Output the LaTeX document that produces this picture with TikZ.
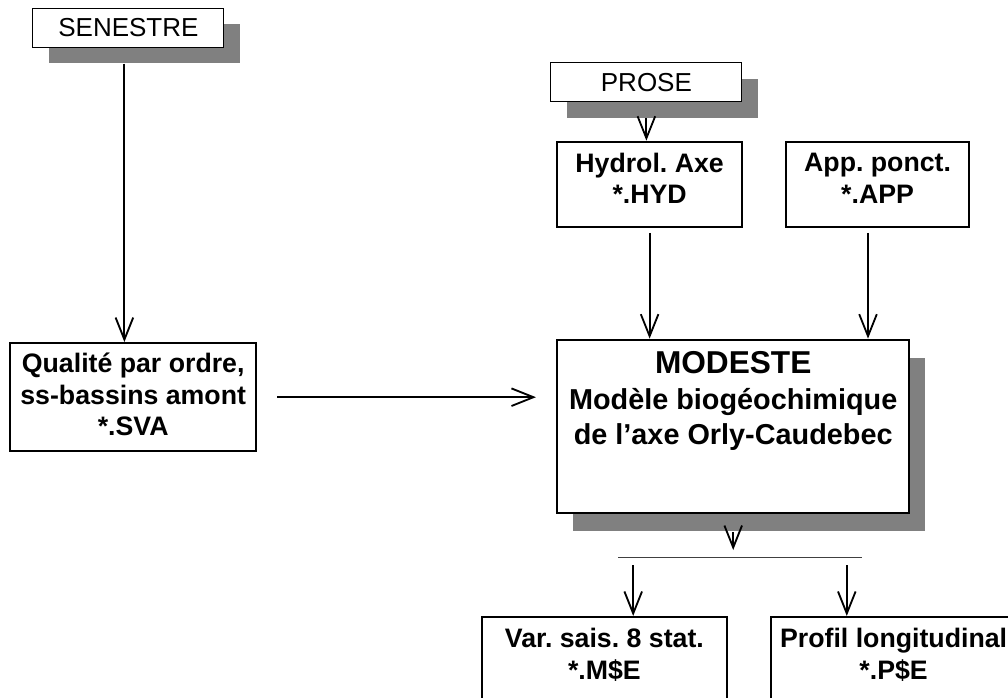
\documentclass[tikz,border=0pt]{standalone}
\usepackage{fontspec}
\setmainfont{Liberation Sans}
\usepackage{tikz}
\usetikzlibrary{arrows.meta, positioning, calc, shadows}
\definecolor{shgray}{RGB}{128,128,128}
\definecolor{mydark}{RGB}{0,0,0}
\frenchspacing
\tikzset{
  tagbox/.style={rectangle, draw=mydark, fill=white, line width=0.8pt,
    minimum width=4.775cm, minimum height=0.975cm, inner sep=0pt,
    font=\fontsize{18.5}{22}\selectfont,
    drop shadow={shadow xshift=0.4cm, shadow yshift=-0.4cm, fill=shgray, opacity=1}},
  filebox/.style={rectangle, draw=mydark, fill=white, line width=1.7pt,
    align=center, inner sep=0pt, text depth=0.3cm,
    font=\fontsize{19}{22.5}\selectfont\bfseries},
  bigbox/.style={rectangle, draw=mydark, fill=white, line width=1.8pt,
    minimum width=8.8cm, minimum height=4.325cm,
    drop shadow={shadow xshift=0.4cm, shadow yshift=-0.45cm, fill=shgray, opacity=1}},
  modtext/.style={align=center, inner sep=0pt,
    font=\fontsize{20.5}{25}\selectfont\bfseries},
  arrow/.style={-{Straight Barb[length=5.5mm, width=4.4mm]}, line width=1.3pt, color=mydark},
  line/.style={line width=0.6pt, color=black!75}
}
\begin{document}
\begin{tikzpicture}
  \path[use as bounding box, clip] (0,0) rectangle (25.2,-17.425);

  % Sources
  \node[tagbox] (sen) at (3.21,-0.69) {SENESTRE};
  \node[tagbox] (pro) at (16.16,-2.06) {PROSE};

  % Input files
  \node[filebox, minimum width=4.625cm, minimum height=2.125cm] (hyd) at (16.24,-4.61) {Hydrol. Axe\\*.HYD};
  \node[filebox, minimum width=4.575cm, minimum height=2.125cm] (app) at (21.94,-4.61) {App. ponct.\\*.APP};
  \node[filebox, minimum width=6.15cm, minimum height=2.7cm, text depth=0.15cm] (qua) at (3.33,-9.93) {Qualité par ordre,\\ss-bassins amont\\*.SVA};

  % Model
  \node[bigbox] (mod) at (18.33,-10.66) {};
  \node[modtext, anchor=north] (modtxt) at ([yshift=-0.3cm]mod.north)
    {{\fontsize{22.5}{26}\selectfont MODESTE}\\[1pt]Modèle biogéochimique\\de l’axe Orly-Caudebec};

  % Outputs
  \node[filebox, minimum width=6.125cm, minimum height=2.125cm] (var) at (15.11,-16.49) {Var. sais. 8 stat.\\*.M\$E};
  \node[filebox, minimum width=6.125cm, minimum height=2.125cm] (prf) at (22.34,-16.49) {Profil longitudinal\\*.P\$E};

  % Connectors
  \coordinate (senout) at ([shift={(-0.1,-0.4)}]sen.south);
  \draw[arrow] (senout) -- (senout |- qua.north);
  \draw[arrow] ([yshift=-0.4cm]pro.south) -- (pro.south |- hyd.north);
  \draw[arrow, shorten <=0.12cm] (hyd.south) -- (hyd.south |- mod.north);
  \draw[arrow, shorten <=0.12cm] ([xshift=-0.24cm]app.south) -- ([xshift=-0.24cm]app.south |- mod.north);
  \draw[arrow, shorten <=0.5cm, shorten >=0.5cm] (qua.east) -- (qua.east -| mod.west);

  % Split
  \coordinate (splitL) at (15.45,-13.925);
  \coordinate (splitR) at (21.55,-13.925);
  \draw[line] (splitL) -- (splitR);
  \draw[arrow] ([yshift=-0.45cm]mod.south) -- ([yshift=0.175cm]mod.south |- splitL);
  \coordinate (outA) at (15.83,-14.125);
  \coordinate (outB) at (21.17,-14.125);
  \draw[arrow] (outA) -- (outA |- var.north);
  \draw[arrow] (outB) -- (outB |- prf.north);
\end{tikzpicture}
\end{document}
